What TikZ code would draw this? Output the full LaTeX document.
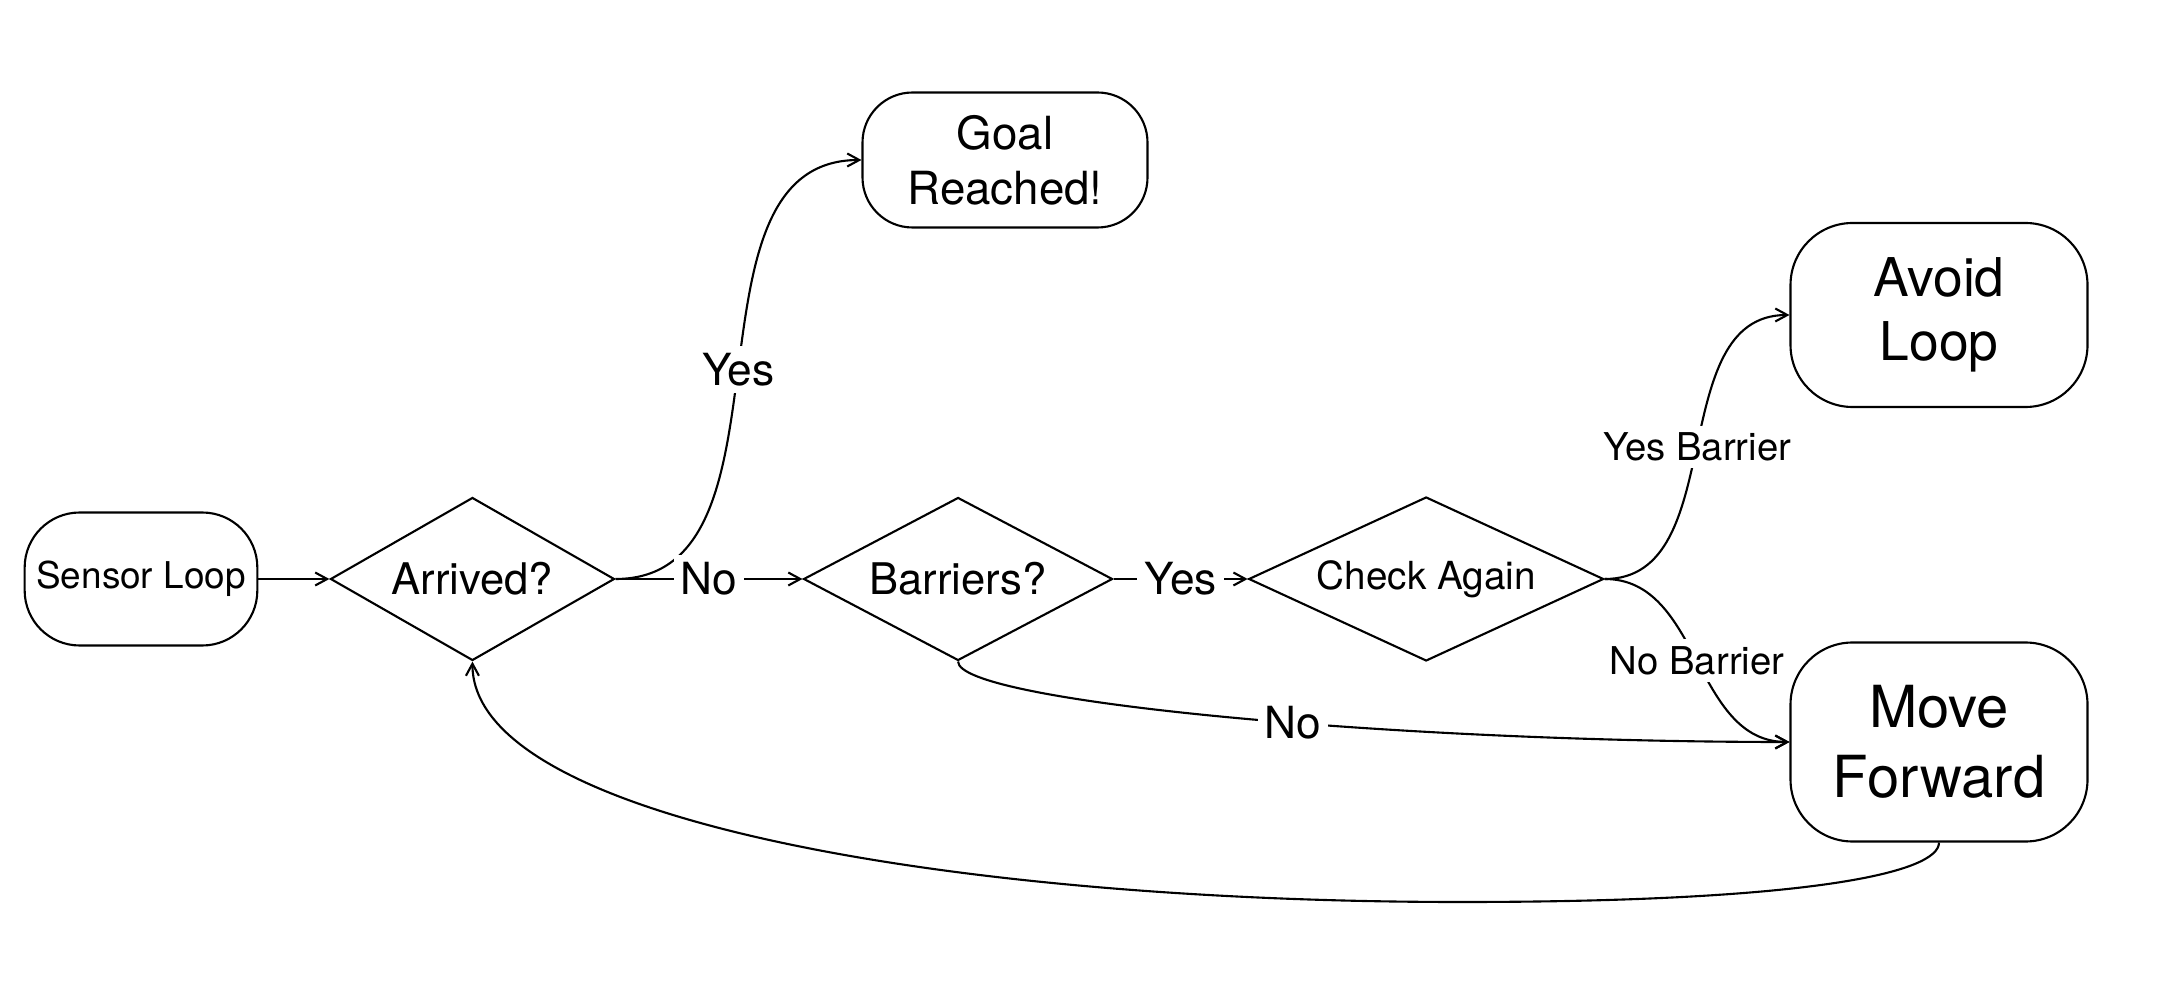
\documentclass[tikz,border=0pt]{standalone}
\usepackage{fontspec}
\setmainfont{TeX Gyre Heros}
\usetikzlibrary{%
	arrows.meta,%
	shapes.geometric,%
	positioning,%
}
\tikzset{
	>={Straight Barb[length=1.2mm,width=1.3mm]},%
	nodes={align=center},%
	term/.style={%
			draw,%
			rectangle,%
			rounded corners=0.55cm,%
			line width=0.6pt,%
			minimum width=2.32cm,%
			minimum height=1.33cm},%
	decision/.style={%
			draw,%
			diamond,%
			shape aspect=1.74,%
			line width=0.6pt,%
			inner sep=0pt,%
			minimum width=2.84cm,%
			minimum height=1.63cm},%
	flow/.style={%
			->,%
			line width=0.6pt},%
	biglabel/.style={%
			fill=white,%
			inner sep=2pt,%
			font=\fontsize{12.6}{15}\selectfont},%
	smalllabel/.style={%
			fill=white,%
			inner sep=2pt,%
			font=\fontsize{10.9}{13}\selectfont},%
}

\begin{document}
\begin{tikzpicture}
	\useasboundingbox (0,0) rectangle (21.82,10.07);

	% main row
	\node[term, font=\fontsize{10.5}{12.6}\selectfont] (sl) at (1.41,4.28) {Sensor Loop};
	\node[decision, right=0.71cm of sl, font=\fontsize{12.4}{14.9}\selectfont] (arr) {Arrived?};
	\node[decision, right=1.87cm of arr, shape aspect=1.9, minimum width=3.09cm, font=\fontsize{12.4}{14.9}\selectfont] (bar) {Barriers?};
	\node[decision, right=1.34cm of bar, shape aspect=2.16, minimum width=3.55cm, minimum height=1.64cm, font=\fontsize{11}{13.2}\selectfont] (chk) {Check Again};

	% outcomes
	\node[term, minimum width=2.85cm, minimum height=1.35cm, rounded corners=0.5cm, font=\fontsize{13}{15.6}\selectfont] (goal) at (10.05,8.47) {Goal\\Reached!};
	\node[term, minimum width=2.97cm, minimum height=1.84cm, rounded corners=0.62cm, font=\fontsize{15.2}{18.2}\selectfont] (avoid) at (19.39,6.92) {Avoid\\Loop};
	\node[term, minimum width=2.97cm, minimum height=1.99cm, rounded corners=0.62cm, font=\fontsize{16.5}{19.8}\selectfont] (move) at (19.39,2.65) {Move\\Forward};

	\coordinate (back) at (14.61,1.05);

	\draw[flow] (sl) -- (arr);
	\draw[flow] (arr.east) to[out=0, in=180] node[biglabel] {Yes} (goal.west);
	\draw[flow] (arr) -- node[biglabel] {No} (bar);
	\draw[flow] (bar) -- node[biglabel] {Yes} (chk);
	\draw[flow] (chk.east) to[out=0, in=180] node[smalllabel] {Yes Barrier} (avoid.west);
	\draw[flow] (chk.east) to[out=0, in=180] node[smalllabel] {No Barrier} (move.west);
	\draw[flow] (bar.south) .. controls +(0,-0.4) and +(-4,0) .. node[biglabel, pos=0.57] {No} (move.west);
	\draw[flow] (move.south) .. controls +(0,-0.3) and +(3.5,0) .. (back) .. controls +(-5,0) and +(0,-1.6) .. (arr.south);
\end{tikzpicture}
\end{document}
